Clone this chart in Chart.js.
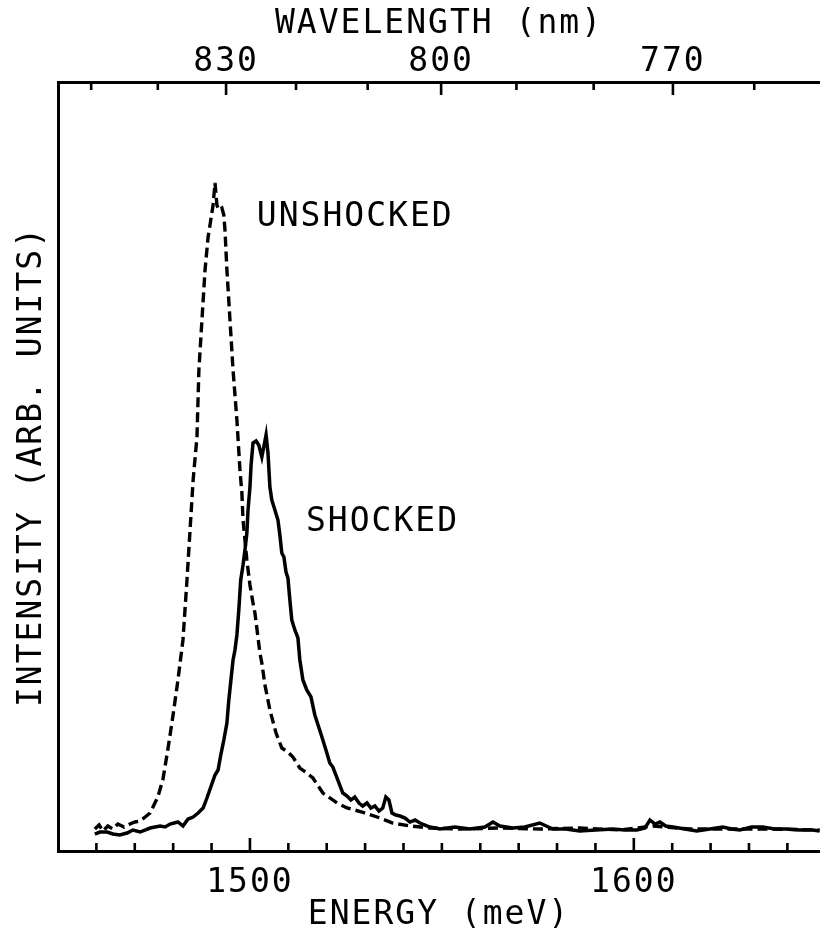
<!DOCTYPE html>
<html>
<head>
<meta charset="utf-8">
<script src="https://cdn.jsdelivr.net/npm/chart.js@4.4.1/dist/chart.umd.min.js"></script>
<style>
  html, body { margin: 0; padding: 0; background: #ffffff; overflow: hidden; }
  canvas { display: block; }
</style>
</head>
<body>
<canvas id="chart" width="820" height="932"></canvas>
<script>
// ---------- DATA ----------
const unshockedEnergy = [1459.6, 1460.7, 1461.7, 1463.0, 1464.3, 1465.6, 1467.2, 1468.75, 1470.05, 1471.4, 1472.7, 1474.0, 1476.0, 1477.3, 1478.6, 1479.9, 1481.25, 1482.55, 1483.6, 1484.4, 1485.2, 1486.2, 1486.7, 1487.5, 1488.3, 1489.1, 1489.8, 1490.4, 1490.9, 1491.4, 1491.9, 1492.7, 1493.2, 1493.5, 1494.0, 1494.8, 1495.6, 1496.6, 1497.4, 1497.9, 1498.2, 1499.2, 1500.0, 1500.8, 1501.3, 1502.6, 1503.1, 1503.9, 1505.2, 1506.8, 1508.3, 1509.9, 1511.2, 1513.0, 1514.8, 1516.4, 1519.0, 1522.7, 1525.3, 1529.2, 1533.9, 1537.2, 1541.7, 1546.9, 1554.7, 1565.1, 1575.5, 1585.9, 1596.4, 1605.0, 1614.6, 1625.0, 1635.4, 1648.4];
const unshockedIntensity = [2.86, 3.38, 2.60, 3.25, 2.86, 3.51, 3.12, 3.51, 3.77, 3.9, 4.42, 4.94, 7.02, 9.23, 13.13, 17.43, 22.24, 27.44, 35.24, 41.74, 48.24, 53.84, 62.55, 69.05, 75.55, 79.84, 82.05, 84.0, 86.87, 84.0, 83.35, 83.6, 82.7, 80.75, 75.55, 69.05, 62.55, 56.05, 49.54, 46.55, 43.04, 37.84, 34.6, 32.25, 30.95, 25.75, 24.45, 21.6, 18.34, 15.34, 13.39, 12.87, 12.22, 10.79, 10.14, 9.49, 7.54, 6.24, 5.59, 5.07, 4.29, 3.64, 3.25, 2.99, 2.86, 2.99, 2.86, 2.99, 2.73, 3.25, 2.86, 2.86, 2.86, 2.73];

const shockedEnergy = [1459.6, 1460.9, 1462.8, 1464.3, 1466.1, 1468.0, 1469.5, 1471.4, 1474.0, 1476.6, 1477.9, 1479.2, 1481.25, 1482.55, 1483.9, 1485.2, 1486.5, 1487.8, 1488.8, 1489.8, 1490.9, 1491.7, 1492.4, 1493.2, 1494.0, 1494.5, 1495.05, 1495.6, 1496.1, 1496.6, 1497.1, 1497.6, 1498.2, 1498.7, 1499.2, 1499.5, 1500.0, 1500.3, 1500.8, 1501.6, 1502.3, 1503.1, 1503.6, 1504.2, 1504.7, 1505.2, 1505.7, 1506.5, 1507.3, 1507.8, 1508.3, 1508.85, 1509.4, 1509.9, 1510.4, 1510.9, 1511.7, 1512.5, 1513.0, 1513.8, 1514.8, 1515.9, 1516.9, 1518.0, 1518.75, 1519.8, 1520.8, 1521.6, 1522.4, 1523.4, 1524.2, 1525.3, 1526.3, 1527.3, 1528.4, 1529.4, 1530.5, 1531.5, 1532.55, 1533.6, 1534.6, 1535.4, 1536.2, 1537.0, 1538.0, 1539.1, 1540.4, 1541.7, 1543.0, 1544.3, 1545.6, 1546.9, 1549.5, 1553.4, 1557.3, 1561.2, 1563.3, 1565.1, 1568.5, 1571.6, 1575.5, 1578.9, 1582.3, 1585.9, 1590.1, 1594.5, 1597.7, 1600.8, 1602.9, 1604.2, 1605.5, 1606.8, 1608.3, 1610.2, 1613.3, 1616.4, 1619.8, 1623.2, 1625.5, 1627.6, 1630.7, 1633.6, 1636.7, 1639.8, 1643.2, 1646.6, 1648.4];
const shockedIntensity = [2.21, 2.47, 2.47, 2.21, 2.08, 2.34, 2.73, 2.47, 2.99, 3.25, 3.12, 3.51, 3.77, 3.25, 4.16, 4.42, 4.94, 5.59, 6.89, 8.32, 9.88, 10.53, 12.48, 14.43, 16.64, 19.64, 22.24, 24.84, 26.14, 28.09, 31.34, 35.24, 37.19, 39.14, 41.35, 44.34, 47.33, 50.20, 53.06, 53.32, 52.80, 51.24, 52.54, 54.10, 51.76, 47.33, 45.64, 44.34, 43.04, 41.09, 38.75, 38.23, 36.28, 35.50, 32.64, 30.04, 28.74, 27.70, 24.84, 22.24, 20.94, 20.03, 17.69, 15.99, 14.82, 13.13, 11.44, 10.92, 9.88, 8.58, 7.54, 7.15, 6.63, 7.02, 6.24, 5.85, 6.24, 5.59, 5.85, 5.20, 5.59, 7.02, 6.63, 4.94, 4.68, 4.55, 4.29, 3.77, 4.03, 3.64, 3.38, 3.12, 2.86, 3.12, 2.86, 3.12, 3.77, 3.25, 2.99, 3.12, 3.64, 2.86, 2.86, 2.60, 2.73, 2.86, 2.73, 2.73, 2.99, 4.03, 3.51, 3.77, 3.25, 3.12, 2.86, 2.60, 2.86, 3.12, 2.86, 2.73, 3.12, 3.12, 2.86, 2.86, 2.73, 2.73, 2.60];

const energyLabelTicks = [1500, 1600];                         // meV, labelled
const energyMinorTicks = [1460, 1470, 1480, 1490, 1500, 1510, 1520, 1530, 1540, 1550, 1560, 1570, 1580, 1590, 1600, 1610, 1620, 1630, 1640];
const wavelengthLabelTicks = [830, 800, 770];                  // nm, labelled
const wavelengthMinorTicks = [850, 840, 830, 820, 810, 800, 790, 780, 770, 760];
const curveLabels = ['UNSHOCKED', 'SHOCKED'];
const curveLabelAnchors = [[1501.8, 82.4], [1514.6, 42.7]];   // [energy, intensity]

const HC = 1239841.98; // meV*nm
const toEnergy = nm => HC / nm;

// ---------- STYLE ----------
const FONT = { family: "'DejaVu Sans Mono', 'DejaVu Sans', monospace", size: 33 };
const TITLE_FONT = { family: FONT.family, size: 33, lineHeight: 1.0 };
const INK = '#000000';

const textSpacing = {
  id: 'textSpacing',
  beforeLayout(chart) { chart.ctx.letterSpacing = '2px'; },
  beforeDraw(chart) {
    const { ctx } = chart;
    ctx.letterSpacing = '2px';
    ctx.save();
    ctx.fillStyle = '#ffffff';
    ctx.fillRect(0, 0, chart.width, chart.height);
    ctx.restore();
  }
};

const inwardTicks = {
  id: 'inwardTicks',
  afterDraw(chart) {
    const { ctx, chartArea: a, scales } = chart;
    ctx.save();
    ctx.strokeStyle = INK;
    ctx.lineWidth = 2.6;
    ctx.beginPath();
    energyMinorTicks.forEach(e => {
      const x = scales.x.getPixelForValue(e);
      const len = energyLabelTicks.includes(e) ? 13 : 8;
      ctx.moveTo(x, a.bottom);
      ctx.lineTo(x, a.bottom - len);
    });
    wavelengthMinorTicks.forEach(w => {
      const x = scales.x2.getPixelForValue(toEnergy(w));
      const len = wavelengthLabelTicks.includes(w) ? 13 : 8;
      ctx.moveTo(x, a.top);
      ctx.lineTo(x, a.top + len);
    });
    ctx.stroke();
    ctx.restore();
  }
};

const curveText = {
  id: 'curveText',
  afterDatasetsDraw(chart) {
    const { ctx, scales } = chart;
    ctx.save();
    ctx.letterSpacing = '2px';
    ctx.fillStyle = INK;
    ctx.font = `${FONT.size}px ${FONT.family}`;
    ctx.textAlign = 'left';
    ctx.textBaseline = 'middle';
    curveLabels.forEach((t, i) => {
      const [e, v] = curveLabelAnchors[i];
      ctx.fillText(t, scales.x.getPixelForValue(e), scales.y.getPixelForValue(v));
    });
    ctx.restore();
  }
};

const xMin = 1450, xMax = 1648.5;

new Chart(document.getElementById('chart'), {
  type: 'line',
  data: {
    datasets: [
      {
        label: 'UNSHOCKED',
        data: unshockedEnergy.map((e, i) => ({ x: e, y: unshockedIntensity[i] })),
        borderColor: INK, borderWidth: 3.4, borderDash: [10, 5],
        pointRadius: 0, tension: 0, fill: false
      },
      {
        label: 'SHOCKED',
        data: shockedEnergy.map((e, i) => ({ x: e, y: shockedIntensity[i] })),
        borderColor: INK, borderWidth: 3.5,
        pointRadius: 0, tension: 0, fill: false
      }
    ]
  },
  options: {
    responsive: false,
    animation: false,
    devicePixelRatio: 1,
    layout: { padding: 0 },
    plugins: { legend: { display: false }, tooltip: { enabled: false } },
    scales: {
      x: {
        type: 'linear', position: 'bottom', min: xMin, max: xMax,
        afterFit(s) { s.height = 81; },
        afterBuildTicks(s) { s.ticks = energyLabelTicks.map(v => ({ value: v })); },
        grid: { display: false, drawTicks: false },
        border: { display: true, color: INK, width: 3 },
        ticks: { color: INK, font: FONT, padding: 13, autoSkip: false, maxRotation: 0,
                 callback: (v) => String(v) },
        title: { display: true, text: 'ENERGY (meV)', color: INK, font: TITLE_FONT, padding: { top: 0, bottom: 0 } }
      },
      x2: {
        type: 'linear', position: 'top', min: xMin, max: xMax,
        afterFit(s) { s.height = 82; },
        afterBuildTicks(s) { s.ticks = wavelengthLabelTicks.map(w => ({ value: toEnergy(w) })); },
        grid: { display: false, drawTicks: false },
        border: { display: true, color: INK, width: 3 },
        ticks: { color: INK, font: FONT, padding: 0, autoSkip: false, maxRotation: 0,
                 callback: (v, i) => String(wavelengthLabelTicks[i]) },
        title: { display: true, text: 'WAVELENGTH (nm)', color: INK, font: FONT, padding: { top: 5, bottom: 0 } }
      },
      y: {
        type: 'linear', position: 'left', min: 0, max: 100,
        afterFit(s) { s.width = 58; },
        grid: { display: false, drawTicks: false },
        border: { display: true, color: INK, width: 3 },
        ticks: { display: false },
        title: { display: true, text: 'INTENSITY (ARB. UNITS)', color: INK, font: FONT, padding: { top: 13, bottom: 0 } }
      }
    }
  },
  plugins: [textSpacing, inwardTicks, curveText]
});
</script>
</body>
</html>
